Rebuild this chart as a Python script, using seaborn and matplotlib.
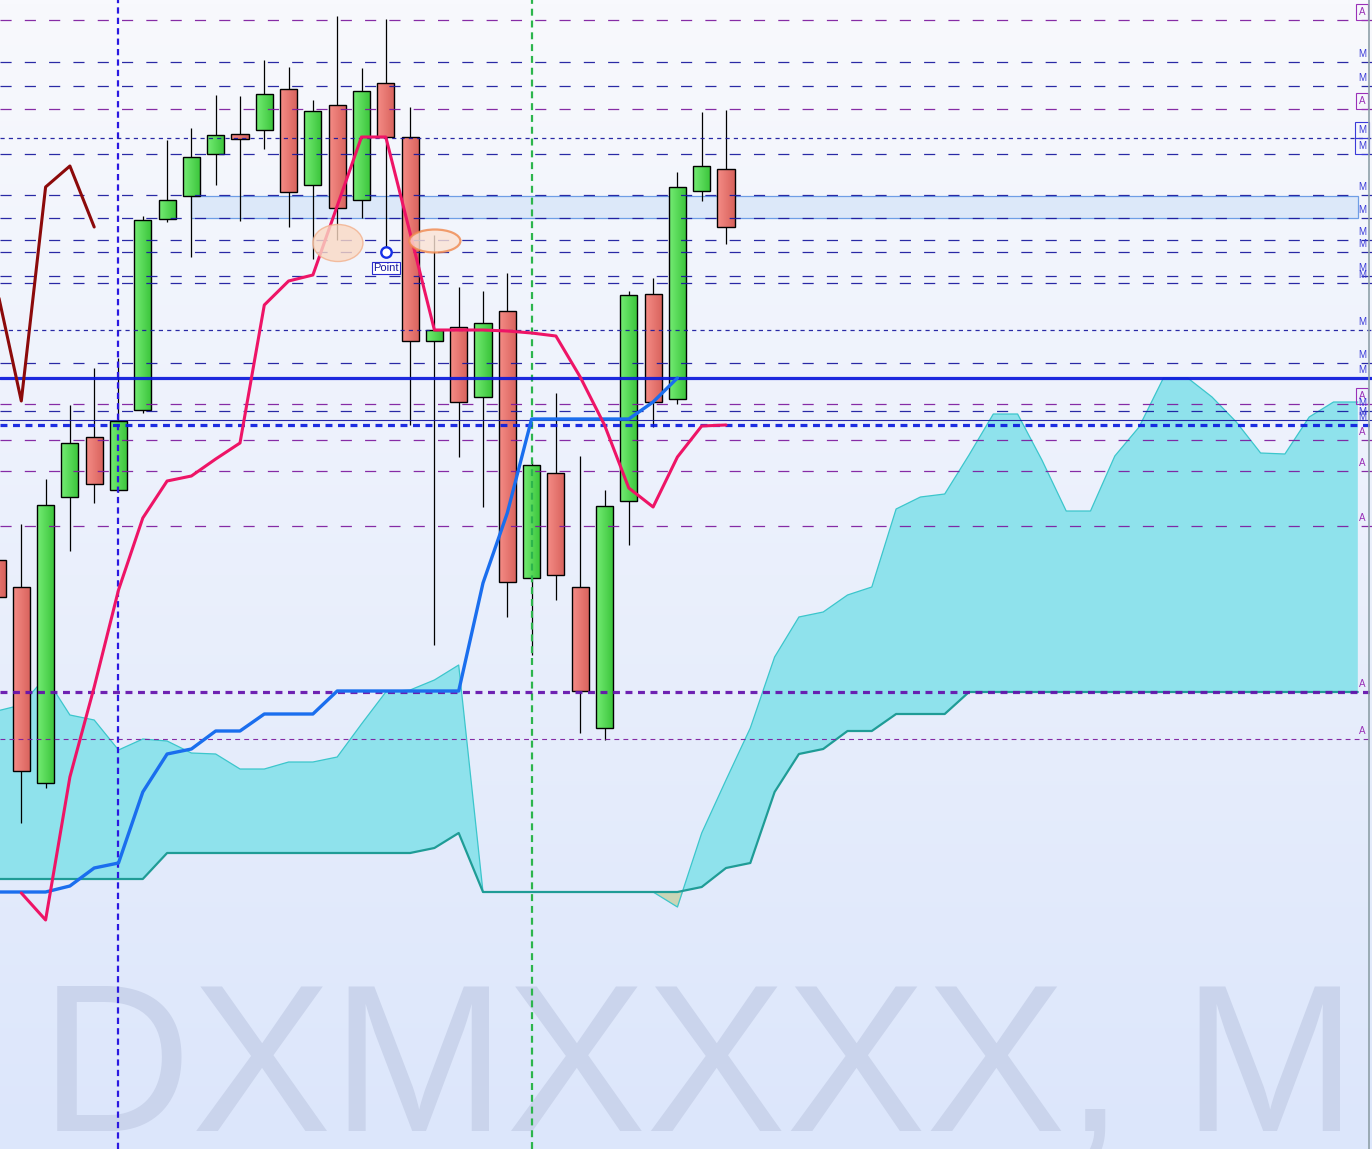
import numpy as np
import pandas as pd
import matplotlib
matplotlib.use("Agg")
import matplotlib.pyplot as plt
from matplotlib.patches import Ellipse, Rectangle
from matplotlib.colors import LinearSegmentedColormap
import seaborn as sns

# ---- candles (monthly bars, chart price units) ----
opens = [589, 562, 366, 652, 712, 659, 739, 930, 953, 995, 1015, 1019, 1060, 964, 1044, 949,
         1066, 1012, 808, 822, 752, 838, 571, 676, 562, 421, 648, 855, 750, 958, 980]
highs = [609, 625, 670, 744, 781, 791, 933, 1009, 1021, 1054, 1053, 1089, 1082, 1049, 1133, 1081,
         1130, 1042, 914, 862, 858, 876, 688, 756, 693, 659, 858, 871, 977, 1037, 1039]
lows = [539, 326, 361, 598, 646, 657, 736, 927, 892, 964, 928, 1000, 922, 890, 909, 931,
        902, 724, 504, 692, 642, 532, 494, 549, 416, 409, 604, 722, 745, 948, 905]
closes = [552, 378, 644, 706, 665, 728, 929, 949, 992, 1014, 1010, 1055, 957, 1038, 941, 1058,
          1012, 808, 819, 747, 826, 567, 684, 574, 458, 643, 854, 747, 962, 983, 922]

# ---- ichimoku ----
tenkan_start = 1
tenkan = [256, 229, 372, 462, 559, 631, 668, 673, 690, 706, 844, 868, 874, 943, 1012, 1012,
          916, 819, 819, 819, 818, 816, 813, 772, 724, 661, 642, 692, 723, 724]
kijun = [257, 257, 257, 263, 281, 286, 357, 395, 400, 418, 418, 435, 435, 435, 458, 458,
         458, 458, 458, 458, 566, 636, 730, 730, 730, 730, 730, 747, 771]
chikou = [860, 748, 962, 983, 922]
span_a = [438, 444, 472, 434, 429, 399, 410, 408, 396, 395, 380, 380, 387, 387, 392, 425,
          457, 459, 469, 484, 257, 257, 257, 257, 257, 257, 257, 257, 242, 316, 369, 421,
          492, 532, 537, 554, 562, 640, 652, 655, 694, 735, 735, 689, 638, 638, 693, 722,
          771, 771, 752, 727, 696, 695, 732, 747, 747]
span_b = [270, 270, 270, 270, 270, 270, 270, 296, 296, 296, 296, 296, 296, 296, 296, 296,
          296, 296, 301, 316, 257, 257, 257, 257, 257, 257, 257, 257, 257, 262, 281, 286,
          357, 395, 400, 418, 418, 435, 435, 435, 457, 457, 457, 457, 457, 457, 457, 457,
          457, 457, 457, 457, 457, 457, 457, 457, 457]

# ---- horizontal levels ----
level_values = [1129, 1087, 1063, 1040, 1011, 995, 954, 931, 909, 897, 873, 866, 819, 786,
                771, 745, 738, 729, 724, 709, 678, 623, 457, 410]
level_kinds = ['A', 'M', 'M', 'A', 'Mdot', 'M', 'M', 'M', 'M', 'M', 'M', 'M', 'Mdot', 'M',
               'Msolid', 'A', 'M', 'Mthin', 'Mthick', 'A', 'A', 'A', 'Athick', 'Adot']
boxed_levels = [1129, 1040, 1011, 995, 745]

# ---- drawings ----
vline_bars = [5, 22]
band_bars = [8, 56]
band_prices = [931, 953]
ellipse_bars = [14.03, 18.02]
ellipse_prices = [906, 908]
point_bar = 16
point_price = 897
watermark = 'DXMXXXX, M'

styles = {
    'A':      dict(color='#7d1a9e', lw=0.9, ls=(0, (8, 9.5))),
    'M':      dict(color='#18189e', lw=0.9, ls=(0, (8, 9.5))),
    'Mdot':   dict(color='#18189e', lw=0.9, ls=(0, (3, 3))),
    'Msolid': dict(color='#0a18dc', lw=2.3, ls='-'),
    'Mthin':  dict(color='#18189e', lw=0.8, ls='-'),
    'Mthick': dict(color='#0c1ce0', lw=2.3, ls=(0, (5, 4))),
    'Athick': dict(color='#6410ac', lw=2.3, ls=(0, (5, 4))),
    'Adot':   dict(color='#7d1a9e', lw=0.8, ls=(0, (3.5, 3))),
}

sns.set_style('white')
plt.rcParams['font.family'] = ['Liberation Sans', 'DejaVu Sans']
plt.rcParams['lines.scale_dashes'] = False

fig = plt.figure(figsize=(13.72, 11.49), dpi=100)
ax = fig.add_axes([0, 0, 1, 1])
ax.set_axis_off()

# background gradient
bg = LinearSegmentedColormap.from_list('bg', ['#dce6fb', '#f8f9fd'])
ax.imshow(np.linspace(0, 1, 256).reshape(-1, 1), cmap=bg, origin='lower',
          extent=(0, 1, 0, 1), transform=ax.transAxes, aspect='auto', zorder=0)

ax.text(0.029, 0.0157, watermark, transform=ax.transAxes, fontsize=151,
        color='#cad4ec', ha='left', va='baseline', zorder=1)

# cloud
idx_cloud = np.arange(len(span_a))
a = np.array(span_a)
b = np.array(span_b)
ax.fill_between(idx_cloud, a, b, where=a >= b, interpolate=True, color='#8fe2ec',
                lw=0, zorder=2)
ax.fill_between(idx_cloud, a, b, where=a < b, interpolate=True, color='#c9d5b6',
                lw=0, zorder=2)
sns.lineplot(x=idx_cloud, y=span_a, ax=ax, color='#3cc6cc', linewidth=0.9, zorder=2.5)
sns.lineplot(x=idx_cloud, y=span_b, ax=ax, color='#1f9c96', linewidth=1.6, zorder=2.5)

# band
ax.add_patch(Rectangle((band_bars[0], band_prices[0]), band_bars[1] - band_bars[0],
                       band_prices[1] - band_prices[0], facecolor='#dce8f9',
                       edgecolor='#6f9ee6', lw=0.9, zorder=2.2))

# candles
red_cm = LinearSegmentedColormap.from_list('r', ['#f58c86', '#d8625c'])
green_cm = LinearSegmentedColormap.from_list('g', ['#74ec74', '#3ac43a'])
grad = np.linspace(0, 1, 32).reshape(1, -1)
w = 0.35
for i, (o, h, l, c) in enumerate(zip(opens, highs, lows, closes)):
    ax.vlines(i, l, h, color='black', lw=0.9, zorder=3.5)
    lo, hi = min(o, c), max(o, c)
    ax.imshow(grad, cmap=green_cm if c >= o else red_cm, extent=(i - w, i + w, lo, hi),
              aspect='auto', interpolation='bilinear', zorder=4)
    ax.add_patch(Rectangle((i - w, lo), 2 * w, hi - lo, fill=False, edgecolor='black',
                           lw=1.0, zorder=4.1))

# vertical markers
ax.axvline(vline_bars[0], color='#2a18e0', lw=1.6, ls=(0, (4.5, 3)), zorder=4.5)
ax.axvline(vline_bars[1], color='#2cb54c', lw=1.6, ls=(0, (5, 3.5)), zorder=4.5)

# levels
for v, k in zip(level_values, level_kinds):
    st = styles[k]
    ax.axhline(v, color=st['color'], lw=st['lw'], ls=st['ls'], alpha=0.92, zorder=5)
    lab = k[0]
    col = '#9a30b8' if lab == 'A' else '#3a3ad8'
    box = None
    if v in boxed_levels:
        box = dict(boxstyle='square,pad=0.3', fc='none', ec=col, lw=0.8)
    ax.text(1362 / 1372, v + 8, lab, transform=ax.get_yaxis_transform(), ha='center',
            va='center', fontsize=7, color=col, bbox=box, zorder=6)

# ichimoku lines
sns.lineplot(x=np.arange(len(kijun)), y=kijun, ax=ax, color='#1a6eee', linewidth=2.4,
             zorder=6)
sns.lineplot(x=np.arange(tenkan_start, tenkan_start + len(tenkan)), y=tenkan, ax=ax,
             color='#ee1466', linewidth=2.2, zorder=6.2)
sns.lineplot(x=np.arange(len(chikou)), y=chikou, ax=ax, color='#8c0a0a', linewidth=2.2,
             zorder=6.2)

# annotations
ax.add_patch(Ellipse((ellipse_bars[0], ellipse_prices[0]), 2.06, 37, facecolor='#fad9c4',
                     edgecolor='#f2b08c', lw=1.0, alpha=0.8, zorder=6.5))
ax.add_patch(Ellipse((ellipse_bars[1], ellipse_prices[1]), 2.1, 23, facecolor='#fbe3d4',
                     edgecolor='#f0874c', lw=1.6, alpha=0.8, zorder=6.5))
ax.plot([point_bar], [point_price], marker='o', ms=7.5, mfc='white', mec='#1530e8',
        mew=1.7, zorder=7)
ax.text(point_bar, point_price - 16, 'Point', ha='center', va='center', fontsize=8,
        color='#1a1aa0', zorder=7,
        bbox=dict(boxstyle='square,pad=0.12', fc='white', ec='#2a2ad0', lw=0.8))

# right frame edge
ax.plot([1369 / 1372, 1369 / 1372], [0, 1], transform=ax.transAxes, color='#8ea0a8',
        lw=1.2, zorder=8)

ax.set_xlim(0.1235, 56.584)
ax.set_ylim(0, 1149)
fig.savefig('out.png', dpi=100)
